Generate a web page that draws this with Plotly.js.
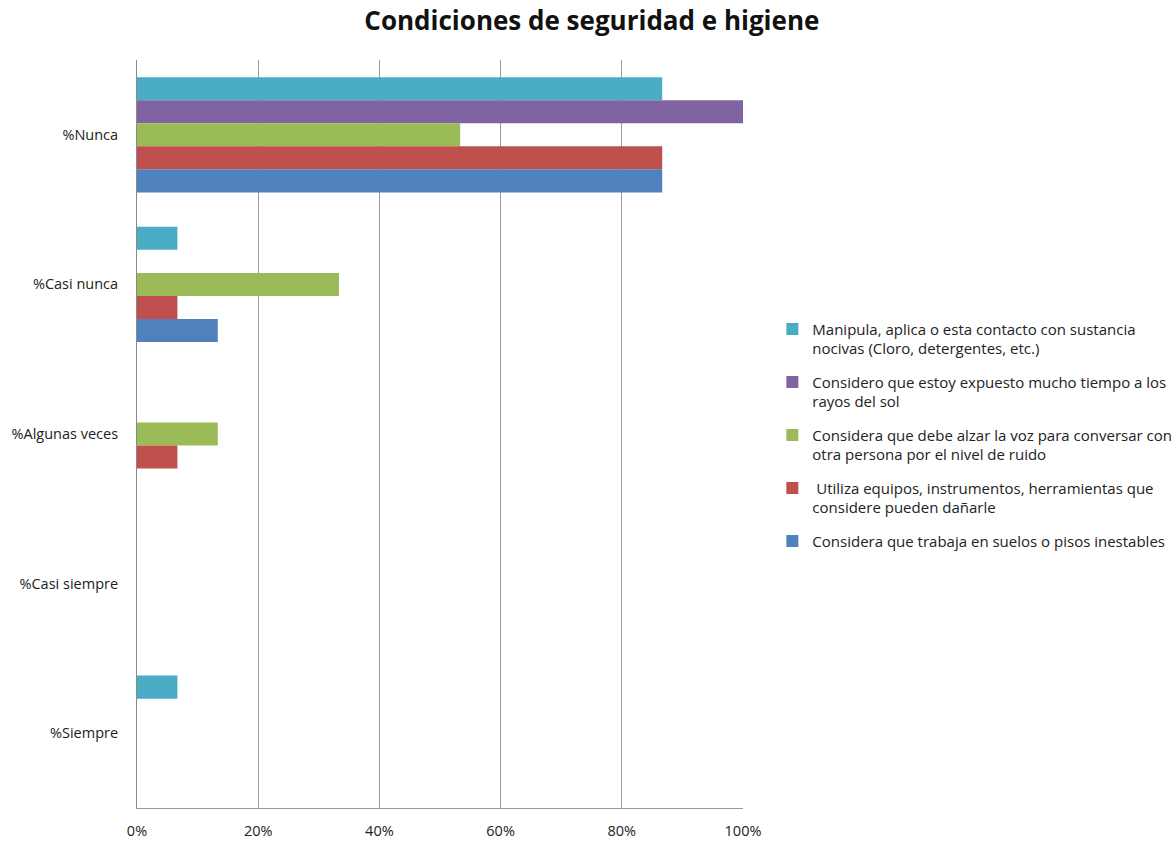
<!DOCTYPE html>
<html>
<head>
<meta charset="utf-8">
<script src="https://cdn.plot.ly/plotly-3.0.1.min.js"></script>
<style>html,body{margin:0;padding:0;background:#fff;}#chart{width:1172px;height:843px;}</style>
</head>
<body>
<div id="chart"></div>
<script>
const categories = ["%Nunca", "%Casi nunca", "%Algunas veces", "%Casi siempre", "%Siempre"];
const seriesNames = [
  "Manipula, aplica o esta contacto con sustancia<br>nocivas (Cloro, detergentes, etc.)",
  "Considero que estoy expuesto mucho tiempo a los<br>rayos del sol",
  "Considera que debe alzar la voz para conversar con<br>otra persona por el nivel de ruido",
  " Utiliza equipos, instrumentos, herramientas que<br>considere pueden dañarle",
  "Considera que trabaja en suelos o pisos inestables"
];
const sustancias = [0.8667, 0.0667, 0, 0, 0.0667];
const sol = [1.0, 0, 0, 0, 0];
const ruido = [0.5333, 0.3333, 0.1333, 0, 0];
const equipos = [0.8667, 0.0667, 0.0667, 0, 0];
const suelos = [0.8667, 0.1333, 0, 0, 0];
const xTicks = [0, 0.2, 0.4, 0.6, 0.8, 1.0];
const xTickLabels = ["0%", "20%", "40%", "60%", "80%", "100%"];
const colors = ["#4BACC6", "#8064A2", "#9BBB59", "#C0504D", "#4F81BD"];
const allSeries = [sustancias, sol, ruido, equipos, suelos];

const traces = allSeries.map((vals, i) => ({
  type: "bar",
  orientation: "h",
  y: categories,
  x: vals,
  name: seriesNames[i],
  legendgroup: "g" + i,
  marker: {color: colors[i], line: {width: 0}},
  hoverinfo: "x+y"
}));

const layout = {
  width: 1172, height: 843,
  margin: {l: 137, r: 429, t: 60, b: 35},
  paper_bgcolor: "#fff", plot_bgcolor: "#fff",
  font: {family: "Open Sans, Lato, sans-serif", size: 14, color: "#222"},
  title: {text: "<b>Condiciones de seguridad e higiene</b>", x: 0.505, xanchor: "center", y: 0.975, yanchor: "middle", font: {size: 26, color: "#111"}},
  barmode: "group",
  bargap: 0.23,
  bargroupgap: 0,
  xaxis: {
    range: [0, 1], tickvals: xTicks, ticktext: xTickLabels,
    showgrid: true, gridcolor: "#9a9a9a", gridwidth: 1,
    showline: true, linecolor: "#9a9a9a", linewidth: 1,
    zeroline: false, ticks: "", ticklabelstandoff: 10,
    tickfont: {size: 14.5, color: "#222"}, fixedrange: true
  },
  yaxis: {
    type: "category", autorange: "reversed",
    showgrid: false, showline: true, linecolor: "#8a8a8a", linewidth: 1,
    zeroline: false, ticks: "", ticklabelstandoff: 15,
    tickfont: {size: 14.5, color: "#222"}, fixedrange: true
  },
  showlegend: true,
  legend: {
    xref: "container", yref: "container",
    x: 0.659, xanchor: "left", y: 0.629, yanchor: "top",
    traceorder: "grouped", tracegroupgap: 11, valign: "top",
    font: {size: 15, color: "#222"}, bgcolor: "rgba(0,0,0,0)",
    itemwidth: 30
  }
};

Plotly.newPlot("chart", traces, layout, {displayModeBar: false, responsive: false});
</script>
</body>
</html>
